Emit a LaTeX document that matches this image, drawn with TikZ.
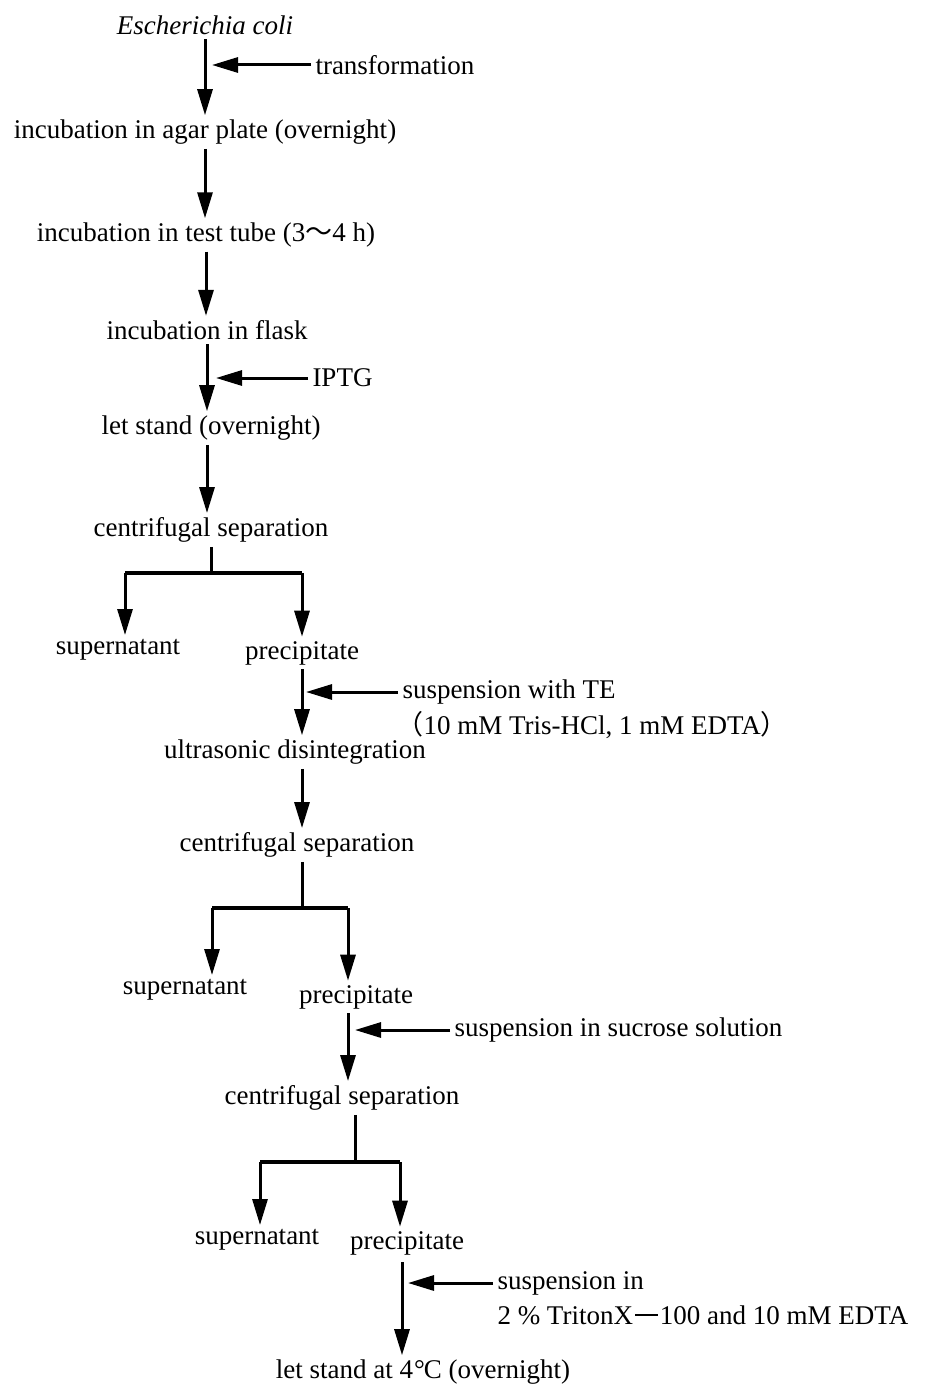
\documentclass[tikz,border=0pt]{standalone}
\usepackage{fontspec}
\setmainfont{Liberation Serif}
\newfontfamily\cjkfont{Noto Sans CJK JP}
\usetikzlibrary{positioning}
\usetikzlibrary{arrows.meta}

\begin{document}
\begin{tikzpicture}[x=1pt, y=-1pt, line width=3pt, >={Triangle[length=26pt,width=15pt]},
    every node/.style={font=\fontsize{27}{31}\selectfont, inner sep=3pt}]
    \useasboundingbox (0,0) rectangle (926,1389);

    \node (ecoli) at (205,25) {\itshape Escherichia coli};
    \node [anchor=west] (trans) at (311,65) {transformation};
    \node (agar) at (205,132) {incubation in agar plate (overnight)};
    \node (tube) at (206,235) {incubation in test tube (3{\cjkfont 〜}4 h)};
    \node (flask) at (207,330) {incubation in flask};
    \node [anchor=west] (iptg) at (308,378) {IPTG};
    \node (stand) at (211,428) {let stand (overnight)};
    \node (cs1) at (211,530) {centrifugal separation};
    \node (sup1) at (118,650) {supernatant};
    \node (prec1) at (302,653) {precipitate};
    \node [anchor=west] (te) at (398,692) {suspension with TE};
    \node [anchor=west] (tebuf) at (392,725) {{\cjkfont （}10 mM Tris-HCl, 1 mM EDTA{\cjkfont ）}};
    \node (ultra) at (295,752) {ultrasonic disintegration};
    \node (cs2) at (297,845) {centrifugal separation};
    \node (sup2) at (185,990) {supernatant};
    \node (prec2) at (356,997) {precipitate};
    \node [anchor=west] (sucr) at (450,1030) {suspension in sucrose solution};
    \node (cs3) at (342,1098) {centrifugal separation};
    \node (sup3) at (257,1240) {supernatant};
    \node (prec3) at (407,1243) {precipitate};
    \node [anchor=west] (triton) at (493,1283) {suspension in};
    \node [anchor=west] (tritonmix) at (493,1315) {2 \% TritonX\kern2pt\rule[0.3em]{0.85em}{0.07em}\kern2pt100 and 10 mM EDTA};
    \node (cold) at (423,1372) {let stand at 4\kern1pt°\kern-1ptC (overnight)};

    \coordinate (br1) at (211,573);
    \coordinate (br1l) at (125,573);
    \coordinate (br1r) at (302,573);
    \coordinate (br2) at (302,908);
    \coordinate (br2l) at (212,908);
    \coordinate (br2r) at (348,908);
    \coordinate (br3) at (355,1162);
    \coordinate (br3l) at (260,1162);
    \coordinate (br3r) at (400,1162);
    \coordinate (last) at (402,1262);

    \draw [->] (ecoli.south) -- (ecoli.south |- agar.north);
    \draw [->] (agar.south) -- (agar.south |- tube.north);
    \draw [->] (tube.south) -- (tube.south |- flask.north);
    \draw [->] (flask.south) -- (flask.south |- stand.north);
    \draw [->] (stand.south -| flask.south) -- (flask.south |- cs1.north);
    \draw [->, shorten >=7pt] (trans.west) -- (trans.west -| ecoli.south);
    \draw [->, shorten >=9pt] (iptg.west) -- (iptg.west -| flask.south);

    \draw (cs1.south) -- (br1);
    \draw [line width=4pt] (br1l) -- (br1r);
    \draw [->] (br1l) -- (br1l |- sup1.north);
    \draw [->] (br1r) -- (br1r |- prec1.north);
    \draw [->] (prec1.south) -- (prec1.south |- ultra.north);
    \draw [->, shorten >=4pt] (te.west) -- (te.west -| prec1.south);

    \draw [->] (ultra.south -| br2) -- (br2 |- cs2.north);
    \draw (cs2.south -| br2) -- (br2);
    \draw [line width=4pt] (br2l) -- (br2r);
    \draw [->] (br2l) -- (br2l |- sup2.north);
    \draw [->] (br2r) -- (br2r |- prec2.north);
    \draw [->] (prec2.south -| br2r) -- (br2r |- cs3.north);
    \draw [->, shorten >=7pt] (sucr.west) -- (sucr.west -| br2r);

    \draw (cs3.south -| br3) -- (br3);
    \draw [line width=4pt] (br3l) -- (br3r);
    \draw [->] (br3l) -- (br3l |- sup3.north);
    \draw [->] (br3r) -- (br3r |- prec3.north);
    \draw [->] (last) -- (last |- cold.north);
    \draw [->, shorten >=6pt] (triton.west) -- (triton.west -| last);
\end{tikzpicture}
\end{document}
